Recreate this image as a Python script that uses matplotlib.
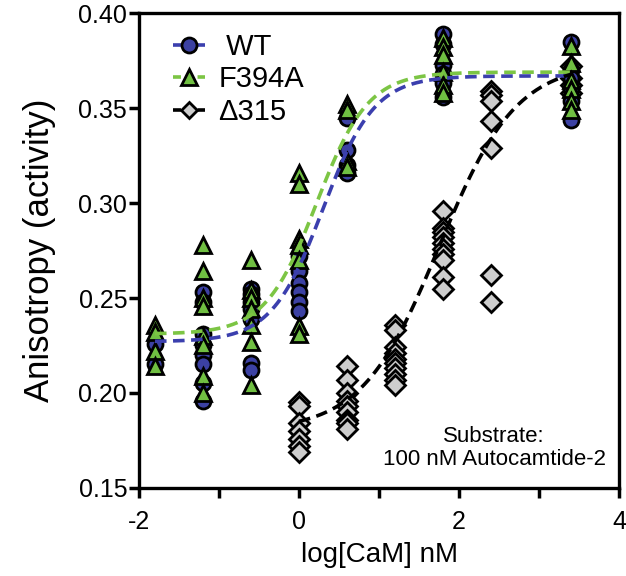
import numpy as np
import matplotlib
matplotlib.use("Agg")
import matplotlib.pyplot as plt
from matplotlib.lines import Line2D

plt.rcParams['font.family'] = ['Liberation Sans', 'DejaVu Sans']

# ---- data (log[CaM] nM -> anisotropy) ----
wt_x = [-1.8, -1.2, -0.6, 0.0, 0.6, 1.8, 3.4]
wt_y = [
    [0.226, 0.215],
    [0.253, 0.248, 0.231, 0.225, 0.220, 0.215, 0.205, 0.196],
    [0.255, 0.252, 0.248, 0.244, 0.239, 0.216, 0.212],
    [0.272, 0.264, 0.258, 0.253, 0.248, 0.243],
    [0.345, 0.328, 0.320, 0.316],
    [0.389, 0.384, 0.373, 0.368, 0.363, 0.356],
    [0.385, 0.370, 0.366, 0.360, 0.354, 0.344],
]
f394a_x = [-1.8, -1.2, -0.6, 0.0, 0.6, 1.8, 3.4]
f394a_y = [
    [0.236, 0.232, 0.222, 0.214],
    [0.278, 0.264, 0.250, 0.246, 0.230, 0.225, 0.209, 0.200],
    [0.270, 0.254, 0.250, 0.244, 0.236, 0.227, 0.204],
    [0.316, 0.310, 0.281, 0.278, 0.270, 0.235, 0.231],
    [0.352, 0.349, 0.322, 0.319],
    [0.387, 0.382, 0.378, 0.369, 0.362, 0.358],
    [0.383, 0.374, 0.365, 0.360, 0.354, 0.349],
]
d315_x = [0.0, 0.6, 1.2, 1.8, 2.4, 3.4]
d315_y = [
    [0.195, 0.193, 0.184, 0.180, 0.176, 0.172, 0.169],
    [0.214, 0.207, 0.200, 0.196, 0.193, 0.190, 0.186, 0.184, 0.181],
    [0.236, 0.233, 0.224, 0.221, 0.218, 0.216, 0.213, 0.210, 0.207, 0.204],
    [0.296, 0.287, 0.285, 0.282, 0.279, 0.276, 0.273, 0.270, 0.261, 0.255],
    [0.359, 0.357, 0.354, 0.343, 0.329, 0.262, 0.248],
    [0.372, 0.366, 0.362, 0.358],
]

# sigmoidal fit parameters: bottom, top, logEC50, hill
wt_fit = (0.227, 0.367, 0.30, 1.35)
f394a_fit = (0.231, 0.369, 0.22, 1.35)
d315_fit = (0.180, 0.374, 1.75, 0.90)

labels = [' WT', 'F394A', '\u0394315']
x_ticks = [-2, 0, 2, 4]
y_ticks = [0.15, 0.20, 0.25, 0.30, 0.35, 0.40]

# ---- styles ----
blue_fill = '#3c41a3'
blue_line = '#3b3fae'
green_fill = '#70bf42'
green_line = '#7cc544'
gray_fill = '#cdcdcd'


def sigmoid(x, p):
    b, t, c, h = p
    return b + (t - b) / (1 + 10 ** ((c - x) * h))


def flatten(xs, ys):
    px, py = [], []
    for xv, col in zip(xs, ys):
        px += [xv] * len(col)
        py += col
    return np.array(px), np.array(py)


fig = plt.figure(figsize=(6.26, 5.76), dpi=100)
ax = fig.add_axes([0.222, 0.153, 0.767, 0.824])

ms_o, ms_t, ms_d, mew = 10.8, 11.2, 10.0, 2.0
# delta315 first (lowest)
dx, dy = flatten(d315_x, d315_y)
ax.plot(dx, dy, linestyle='none', marker='D', ms=ms_d, mfc=gray_fill,
        mec='black', mew=mew, zorder=3)
wx, wy = flatten(wt_x, wt_y)
ax.plot(wx, wy, linestyle='none', marker='o', ms=ms_o, mfc=blue_fill,
        mec='black', mew=mew, zorder=4)
fx, fy = flatten(f394a_x, f394a_y)
ax.plot(fx, fy, linestyle='none', marker='^', ms=ms_t, mfc=green_fill,
        mec='black', mew=mew, zorder=5)

dash = (0, (3.2, 1.8))
xs = np.linspace(min(wt_x), max(wt_x), 300)
ax.plot(xs, sigmoid(xs, wt_fit), color=blue_line, lw=2.6, linestyle=dash, zorder=6)
xs = np.linspace(min(f394a_x), max(f394a_x), 300)
ax.plot(xs, sigmoid(xs, f394a_fit), color=green_line, lw=2.6, linestyle=dash, zorder=6)
xs = np.linspace(min(d315_x), max(d315_x), 300)
ax.plot(xs, sigmoid(xs, d315_fit), color='black', lw=2.6, linestyle=dash, zorder=6)

ax.set_xlim(-2, 4)
ax.set_ylim(0.15, 0.40)
ax.set_xticks(x_ticks)
ax.set_xticklabels([str(v) if v >= 0 else '-' + str(-v) for v in x_ticks])
ax.set_xticks([-1, 1, 3], minor=True)
ax.set_yticks(y_ticks)
ax.set_yticklabels([f'{v:.2f}' for v in y_ticks])
ax.tick_params(which='both', direction='out', length=7, width=2.5,
               labelsize=18)
ax.tick_params(axis='y', pad=1.5)
ax.tick_params(axis='x', pad=9)
for s in ax.spines.values():
    s.set_linewidth(2.4)

ax.set_xlabel('log[CaM] nM', fontsize=20, labelpad=6)
ax.set_ylabel('Anisotropy (activity)', fontsize=25, labelpad=16)

handles = [
    Line2D([], [], color=blue_line, lw=2.6, linestyle=(0, (2.2, 1.2)), marker='o',
           ms=ms_o, mfc=blue_fill, mec='black', mew=mew),
    Line2D([], [], color=green_line, lw=2.6, linestyle=(0, (2.2, 1.2)), marker='^',
           ms=ms_t, mfc=green_fill, mec='black', mew=mew),
    Line2D([], [], color='black', lw=2.6, linestyle=(0, (2.2, 1.2)), marker='D',
           ms=ms_d * 0.85, mfc=gray_fill, mec='black', mew=mew),
]
ax.legend(handles, labels, loc='upper left', bbox_to_anchor=(0.035, 0.995),
          frameon=False, fontsize=21, handlelength=1.1, handletextpad=0.45,
          labelspacing=0.15, borderaxespad=0.2)

ax.text(0.74, 0.084, 'Substrate:\n100 nM Autocamtide-2', transform=ax.transAxes,
        ha='center', va='center', fontsize=16, linespacing=1.15)

fig.savefig('out.png', dpi=100)
